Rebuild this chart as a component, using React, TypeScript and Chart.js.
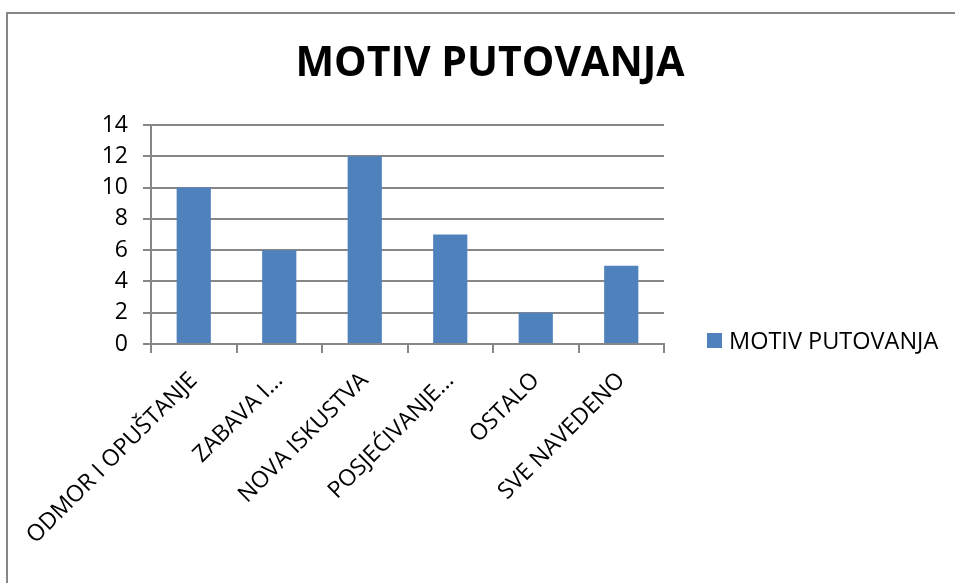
import React, { useEffect, useRef } from "react";
import { Chart, registerables } from "chart.js";
Chart.register(...registerables);

const categories = ["ODMOR I OPUŠTANJE", "ZABAVA I...", "NOVA ISKUSTVA", "POSJEĆIVANJE...", "OSTALO", "SVE NAVEDENO"];
const values = [10, 6, 12, 7, 2, 5];
const seriesName = "MOTIV PUTOVANJA";
const chartTitle = "MOTIV PUTOVANJA";
const yMin = 0;
const yMax = 14;
const yStep = 2;

const FONT = "'Open Sans', sans-serif";
const GRID = "#878787";
const BAR = "#4F81BD";

const overlay = {
  id: "overlay",
  afterDraw(chart: any) {
    const ctx = chart.ctx;
    ctx.save();
    ctx.fillStyle = "#000";
    ctx.font = `bold 41px ${FONT}`;
    ctx.textAlign = "center";
    ctx.textBaseline = "middle";
    ctx.fillText(chartTitle, 490, 64);
    const ly = 341;
    ctx.fillStyle = BAR;
    ctx.fillRect(707, ly - 8, 15, 15);
    ctx.fillStyle = "#000";
    ctx.font = `23.5px ${FONT}`;
    ctx.textAlign = "left";
    ctx.fillText(seriesName, 729, ly + 1);
    ctx.restore();
  },
};

export default function App() {
  const ref = useRef<HTMLCanvasElement>(null);
  useEffect(() => {
    if (!ref.current) return;
    const chart = new Chart(ref.current, {
      type: "bar",
      data: {
        labels: categories,
        datasets: [
          {
            label: seriesName,
            data: values,
            backgroundColor: BAR,
            barPercentage: 0.4,
            categoryPercentage: 1,
          },
        ],
      },
      options: {
        responsive: false,
        animation: false,
        devicePixelRatio: 1,
        layout: { padding: { left: 91, right: 291, top: 125, bottom: 0 } },
        plugins: { legend: { display: false }, title: { display: false }, tooltip: { enabled: false } },
        scales: {
          x: {
            offset: true,
            grid: { display: true, offset: true, drawOnChartArea: false, tickLength: 9, color: GRID, lineWidth: 2 },
            border: { display: true, color: GRID, width: 2 },
            ticks: {
              autoSkip: false,
              maxRotation: 45,
              minRotation: 45,
              color: "#000",
              padding: 14,
              font: { family: FONT, size: 23 },
            },
            afterFit(s: any) {
              s.height = 239;
            },
          },
          y: {
            min: yMin,
            max: yMax,
            ticks: { stepSize: yStep, color: "#000", padding: 15, font: { family: FONT, size: 23 } },
            grid: { color: GRID, lineWidth: 2, tickLength: 8 },
            border: { display: true, color: GRID, width: 2 },
            afterFit(s: any) {
              s.width = 60;
            },
          },
        },
      },
      plugins: [overlay],
    });
    return () => chart.destroy();
  }, []);
  return (
    <div style={{ position: "fixed", left: 0, top: 0, width: 955, height: 583, overflow: "hidden", background: "#fff" }}>
      <div
        style={{
          position: "absolute",
          left: 6,
          top: 12,
          width: 1200,
          height: 1200,
          border: "2px solid #878787",
          boxSizing: "border-box",
        }}
      />
      <canvas ref={ref} width={955} height={583} style={{ position: "absolute", left: 0, top: 0 }} />
    </div>
  );
}
